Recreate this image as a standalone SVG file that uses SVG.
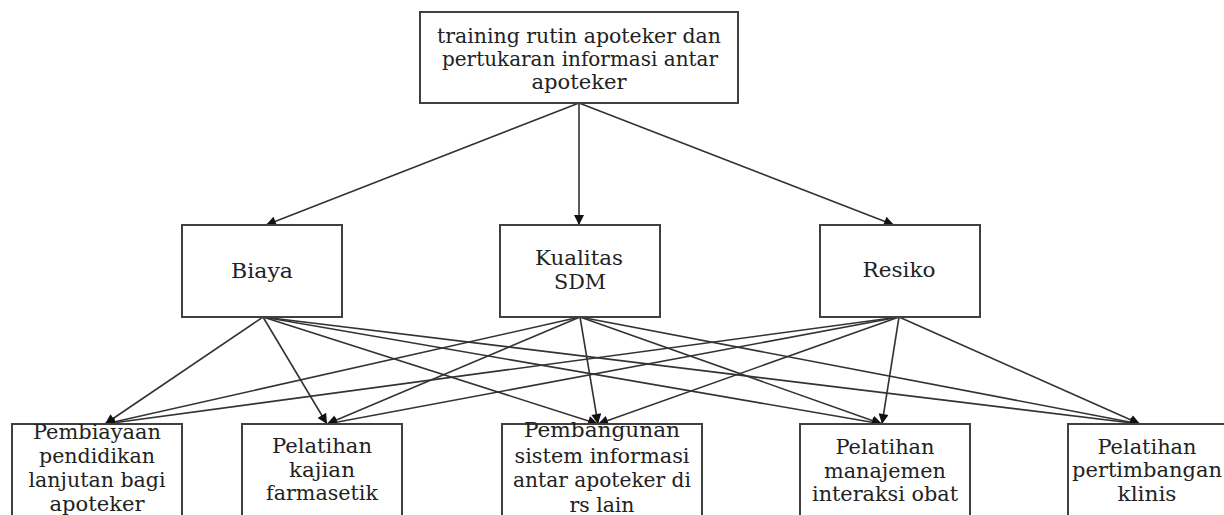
<svg xmlns="http://www.w3.org/2000/svg" width="1224" height="515" viewBox="0 0 1224 515">
  <style>
    .box { fill: #ffffff; stroke: #404040; stroke-width: 2; }
    .lbl { font-family: "DejaVu Serif", "Liberation Serif", serif; font-size: 21px; fill: #222222; text-anchor: middle; }
    .edge { stroke: #333333; stroke-width: 1.6; fill: none; marker-end: url(#arrow); }
  </style>
  <defs>
    <marker id="arrow" viewBox="0 0 10 10" refX="10" refY="5" markerWidth="12" markerHeight="10" markerUnits="userSpaceOnUse" orient="auto">
      <path d="M0,0 L10,5 L0,10 z" fill="#111111"/>
    </marker>
  </defs>
  <rect width="1224" height="515" fill="#ffffff"/>

  <!-- connectors -->
  <g id="connectors">
    <line class="edge" x1="579" y1="103" x2="266" y2="225"/>
    <line class="edge" x1="579" y1="103" x2="579" y2="225"/>
    <line class="edge" x1="579" y1="103" x2="894" y2="225"/>

    <line class="edge" x1="263" y1="317" x2="105" y2="424"/>
    <line class="edge" x1="263" y1="317" x2="327" y2="424"/>
    <line class="edge" x1="263" y1="317" x2="598" y2="424"/>
    <line class="edge" x1="263" y1="317" x2="882" y2="424"/>
    <line class="edge" x1="263" y1="317" x2="1140" y2="424"/>

    <line class="edge" x1="580" y1="317" x2="105" y2="424"/>
    <line class="edge" x1="580" y1="317" x2="327" y2="424"/>
    <line class="edge" x1="580" y1="317" x2="598" y2="424"/>
    <line class="edge" x1="580" y1="317" x2="882" y2="424"/>
    <line class="edge" x1="580" y1="317" x2="1140" y2="424"/>

    <line class="edge" x1="899" y1="317" x2="105" y2="424"/>
    <line class="edge" x1="899" y1="317" x2="327" y2="424"/>
    <line class="edge" x1="899" y1="317" x2="598" y2="424"/>
    <line class="edge" x1="899" y1="317" x2="882" y2="424"/>
    <line class="edge" x1="899" y1="317" x2="1140" y2="424"/>
  </g>

  <!-- root -->
  <g id="node-training">
    <rect class="box" x="420" y="12" width="318" height="91"/>
    <text class="lbl" x="579" y="43" textLength="284" lengthAdjust="spacingAndGlyphs">training rutin apoteker dan</text>
    <text class="lbl" x="580" y="66" textLength="276" lengthAdjust="spacingAndGlyphs">pertukaran informasi antar</text>
    <text class="lbl" x="579" y="89" textLength="95" lengthAdjust="spacingAndGlyphs">apoteker</text>
  </g>

  <!-- criteria -->
  <g id="node-biaya">
    <rect class="box" x="182" y="225" width="160" height="92"/>
    <text class="lbl" x="262" y="278" textLength="62" lengthAdjust="spacingAndGlyphs">Biaya</text>
  </g>
  <g id="node-kualitas">
    <rect class="box" x="500" y="225" width="160" height="92"/>
    <text class="lbl" x="579" y="265" textLength="88" lengthAdjust="spacingAndGlyphs">Kualitas</text>
    <text class="lbl" x="580" y="289" textLength="52" lengthAdjust="spacingAndGlyphs">SDM</text>
  </g>
  <g id="node-resiko">
    <rect class="box" x="820" y="225" width="160" height="92"/>
    <text class="lbl" x="899" y="277" textLength="73" lengthAdjust="spacingAndGlyphs">Resiko</text>
  </g>

  <!-- alternatives -->
  <g id="node-pembiayaan">
    <rect class="box" x="12" y="424" width="170" height="100"/>
    <text class="lbl" x="97" y="439" textLength="128" lengthAdjust="spacingAndGlyphs">Pembiayaan</text>
    <text class="lbl" x="97" y="463" textLength="116" lengthAdjust="spacingAndGlyphs">pendidikan</text>
    <text class="lbl" x="97" y="487" textLength="137" lengthAdjust="spacingAndGlyphs">lanjutan bagi</text>
    <text class="lbl" x="97" y="511" textLength="95" lengthAdjust="spacingAndGlyphs">apoteker</text>
  </g>
  <g id="node-kajian">
    <rect class="box" x="242" y="424" width="160" height="100"/>
    <text class="lbl" x="322" y="453" textLength="100" lengthAdjust="spacingAndGlyphs">Pelatihan</text>
    <text class="lbl" x="322" y="477" textLength="66" lengthAdjust="spacingAndGlyphs">kajian</text>
    <text class="lbl" x="322" y="500" textLength="112" lengthAdjust="spacingAndGlyphs">farmasetik</text>
  </g>
  <g id="node-sistem">
    <rect class="box" x="502" y="424" width="200" height="100"/>
    <text class="lbl" x="602" y="437" textLength="156" lengthAdjust="spacingAndGlyphs">Pembangunan</text>
    <text class="lbl" x="602" y="463" textLength="175" lengthAdjust="spacingAndGlyphs">sistem informasi</text>
    <text class="lbl" x="602" y="487" textLength="178" lengthAdjust="spacingAndGlyphs">antar apoteker di</text>
    <text class="lbl" x="602" y="512" textLength="65" lengthAdjust="spacingAndGlyphs">rs lain</text>
  </g>
  <g id="node-interaksi">
    <rect class="box" x="800" y="424" width="170" height="100"/>
    <text class="lbl" x="885" y="454" textLength="99" lengthAdjust="spacingAndGlyphs">Pelatihan</text>
    <text class="lbl" x="885" y="478" textLength="122" lengthAdjust="spacingAndGlyphs">manajemen</text>
    <text class="lbl" x="885" y="501" textLength="146" lengthAdjust="spacingAndGlyphs">interaksi obat</text>
  </g>
  <g id="node-klinis">
    <rect class="box" x="1068" y="424" width="180" height="100"/>
    <text class="lbl" x="1147" y="454" textLength="99" lengthAdjust="spacingAndGlyphs">Pelatihan</text>
    <text class="lbl" x="1147" y="477" textLength="150" lengthAdjust="spacingAndGlyphs">pertimbangan</text>
    <text class="lbl" x="1147" y="501" textLength="59" lengthAdjust="spacingAndGlyphs">klinis</text>
  </g>
</svg>
